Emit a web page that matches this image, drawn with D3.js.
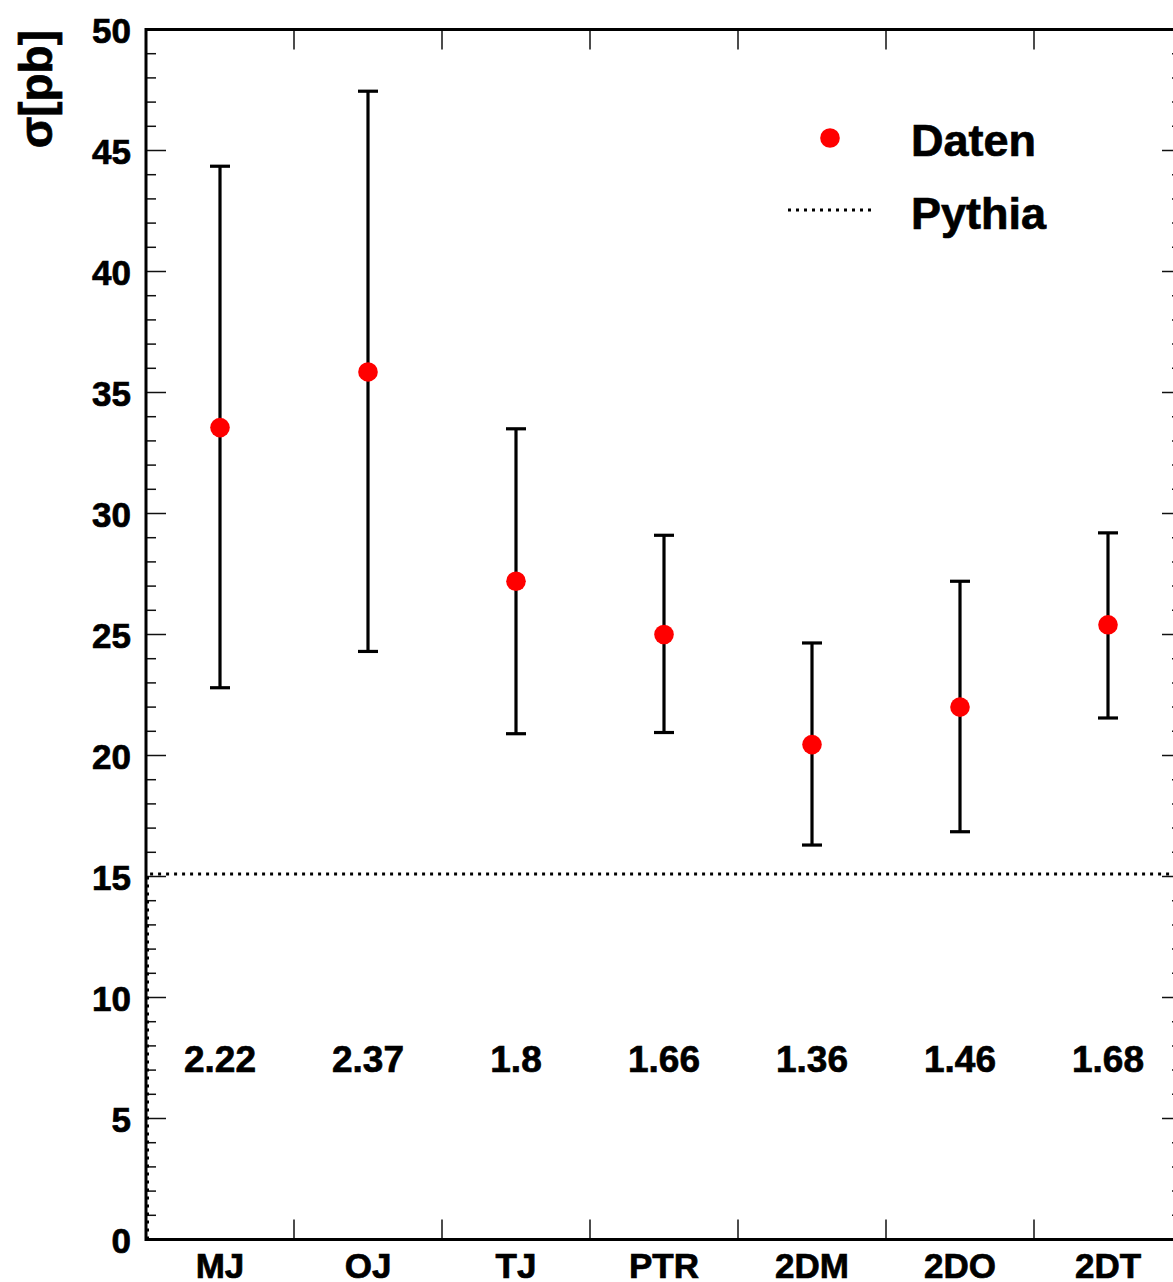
<!DOCTYPE html>
<html><head><meta charset="utf-8">
<script src="https://cdn.jsdelivr.net/npm/d3@7"></script>
<style>
html,body{margin:0;padding:0;background:#fff;overflow:hidden;}
text{font-family:"Liberation Sans",Arial,Helvetica,sans-serif;font-weight:bold;fill:#000;stroke:#000;stroke-width:0.7px;}
</style></head>
<body>
<script>
const categories = ["MJ","OJ","TJ","PTR","2DM","2DO","2DT"];
const values = [33.55, 35.85, 27.2, 25.0, 20.45, 22.0, 25.4];
const errLow = [22.8, 24.3, 20.9, 20.95, 16.3, 16.85, 21.55];
const errHigh = [44.35, 47.45, 33.5, 29.1, 24.65, 27.2, 29.2];
const ratios = ["2.22","2.37","1.8","1.66","1.36","1.46","1.68"];
const pythia = 15.1;
const yMajorTicks = [0,5,10,15,20,25,30,35,40,45,50];
const legendLabels = ["Daten","Pythia"];

const W = 1173, H = 1282;
const L = 146, R = 1182, T = 29.5, B = 1239.5;

const svg = d3.select("body").append("svg").attr("width", W).attr("height", H);

const x = d3.scaleBand().domain(categories).range([L, R]).padding(0);
const y = d3.scaleLinear().domain([0, 50]).range([B, T]);

const minor = d3.range(0, 51, 1).filter(v => v % 5 !== 0);
const yLeft = d3.axisLeft(y).tickValues(yMajorTicks).tickSize(0).tickPadding(14).tickFormat(d3.format("d"));
const gl = svg.append("g").attr("transform", `translate(${L},0)`).call(yLeft);
gl.select(".domain").remove();
gl.selectAll("text").style("font-size", "35px").attr("dy", "0.36em").attr("x", -15);

const tickG = svg.append("g").attr("stroke", "#111").attr("stroke-width", 1.5);
tickG.selectAll(".lmaj").data(yMajorTicks).join("line").attr("class","lmaj")
  .attr("x1", L).attr("x2", L + 20).attr("y1", d => y(d)).attr("y2", d => y(d));
tickG.selectAll(".lmin").data(minor).join("line").attr("class","lmin")
  .attr("x1", L).attr("x2", L + 10).attr("y1", d => y(d)).attr("y2", d => y(d));
tickG.selectAll(".rmaj").data(yMajorTicks).join("line").attr("class","rmaj")
  .attr("x1", R).attr("x2", R - 20).attr("y1", d => y(d)).attr("y2", d => y(d));
tickG.selectAll(".rmin").data(minor).join("line").attr("class","rmin")
  .attr("x1", R).attr("x2", R - 10).attr("y1", d => y(d)).attr("y2", d => y(d));
const edges = categories.slice(1).map(c => x(c));
tickG.selectAll(".bx").data(edges).join("line").attr("class","bx")
  .attr("x1", d => d).attr("x2", d => d).attr("y1", B).attr("y2", B - 20);
tickG.selectAll(".tx").data(edges).join("line").attr("class","tx")
  .attr("x1", d => d).attr("x2", d => d).attr("y1", T).attr("y2", T + 20);

// Pythia dotted line (histogram)
svg.append("path")
  .attr("d", `M${L+1.5},${B} L${L+1.5},${y(pythia)} L${R},${y(pythia)}`)
  .attr("fill", "none").attr("stroke", "#000").attr("stroke-width", 3)
  .attr("stroke-dasharray", "3,5");

// frame
svg.append("rect").attr("x", L).attr("y", T).attr("width", R - L).attr("height", B - T)
  .attr("fill", "none").attr("stroke", "#000").attr("stroke-width", 3);

const xAxis = d3.axisBottom(x).tickSize(0).tickPadding(0);
const gx = svg.append("g").attr("transform", `translate(0,${B})`).call(xAxis);
gx.select(".domain").remove();
gx.selectAll("text").style("font-size", "35px").attr("y", 38).attr("dy", 0);

// error bars
const eb = svg.append("g").attr("stroke", "#000").attr("stroke-width", 3.2);
const cx = c => x(c) + x.bandwidth() / 2;
eb.selectAll(".v").data(categories).join("line").attr("class","v")
  .attr("x1", cx).attr("x2", cx)
  .attr("y1", (c, i) => y(errLow[i])).attr("y2", (c, i) => y(errHigh[i]));
eb.selectAll(".ct").data(categories).join("line").attr("class","ct")
  .attr("x1", c => cx(c) - 10).attr("x2", c => cx(c) + 10)
  .attr("y1", (c, i) => y(errHigh[i])).attr("y2", (c, i) => y(errHigh[i]));
eb.selectAll(".cb").data(categories).join("line").attr("class","cb")
  .attr("x1", c => cx(c) - 10).attr("x2", c => cx(c) + 10)
  .attr("y1", (c, i) => y(errLow[i])).attr("y2", (c, i) => y(errLow[i]));

svg.append("g").selectAll("circle").data(categories).join("circle")
  .attr("cx", cx).attr("cy", (c, i) => y(values[i])).attr("r", 9.8).attr("fill", "#ff0000");

svg.append("g").selectAll("text").data(categories).join("text")
  .attr("x", cx).attr("y", 1072).attr("text-anchor", "middle")
  .style("font-size", "37px").text((c, i) => ratios[i]);

svg.append("text").attr("transform", "translate(52,30) rotate(-90)")
  .attr("text-anchor", "end").style("font-size", "46px").text("σ[pb]");

// legend
svg.append("circle").attr("cx", 830).attr("cy", 138).attr("r", 9.8).attr("fill", "#ff0000");
svg.append("line").attr("x1", 788).attr("x2", 872).attr("y1", 210).attr("y2", 210)
  .attr("stroke", "#000").attr("stroke-width", 3).attr("stroke-dasharray", "3,5");
svg.append("text").attr("x", 911).attr("y", 156).style("font-size", "45px").text(legendLabels[0]);
svg.append("text").attr("x", 911).attr("y", 229).style("font-size", "45px").text(legendLabels[1]);
</script>
</body></html>
